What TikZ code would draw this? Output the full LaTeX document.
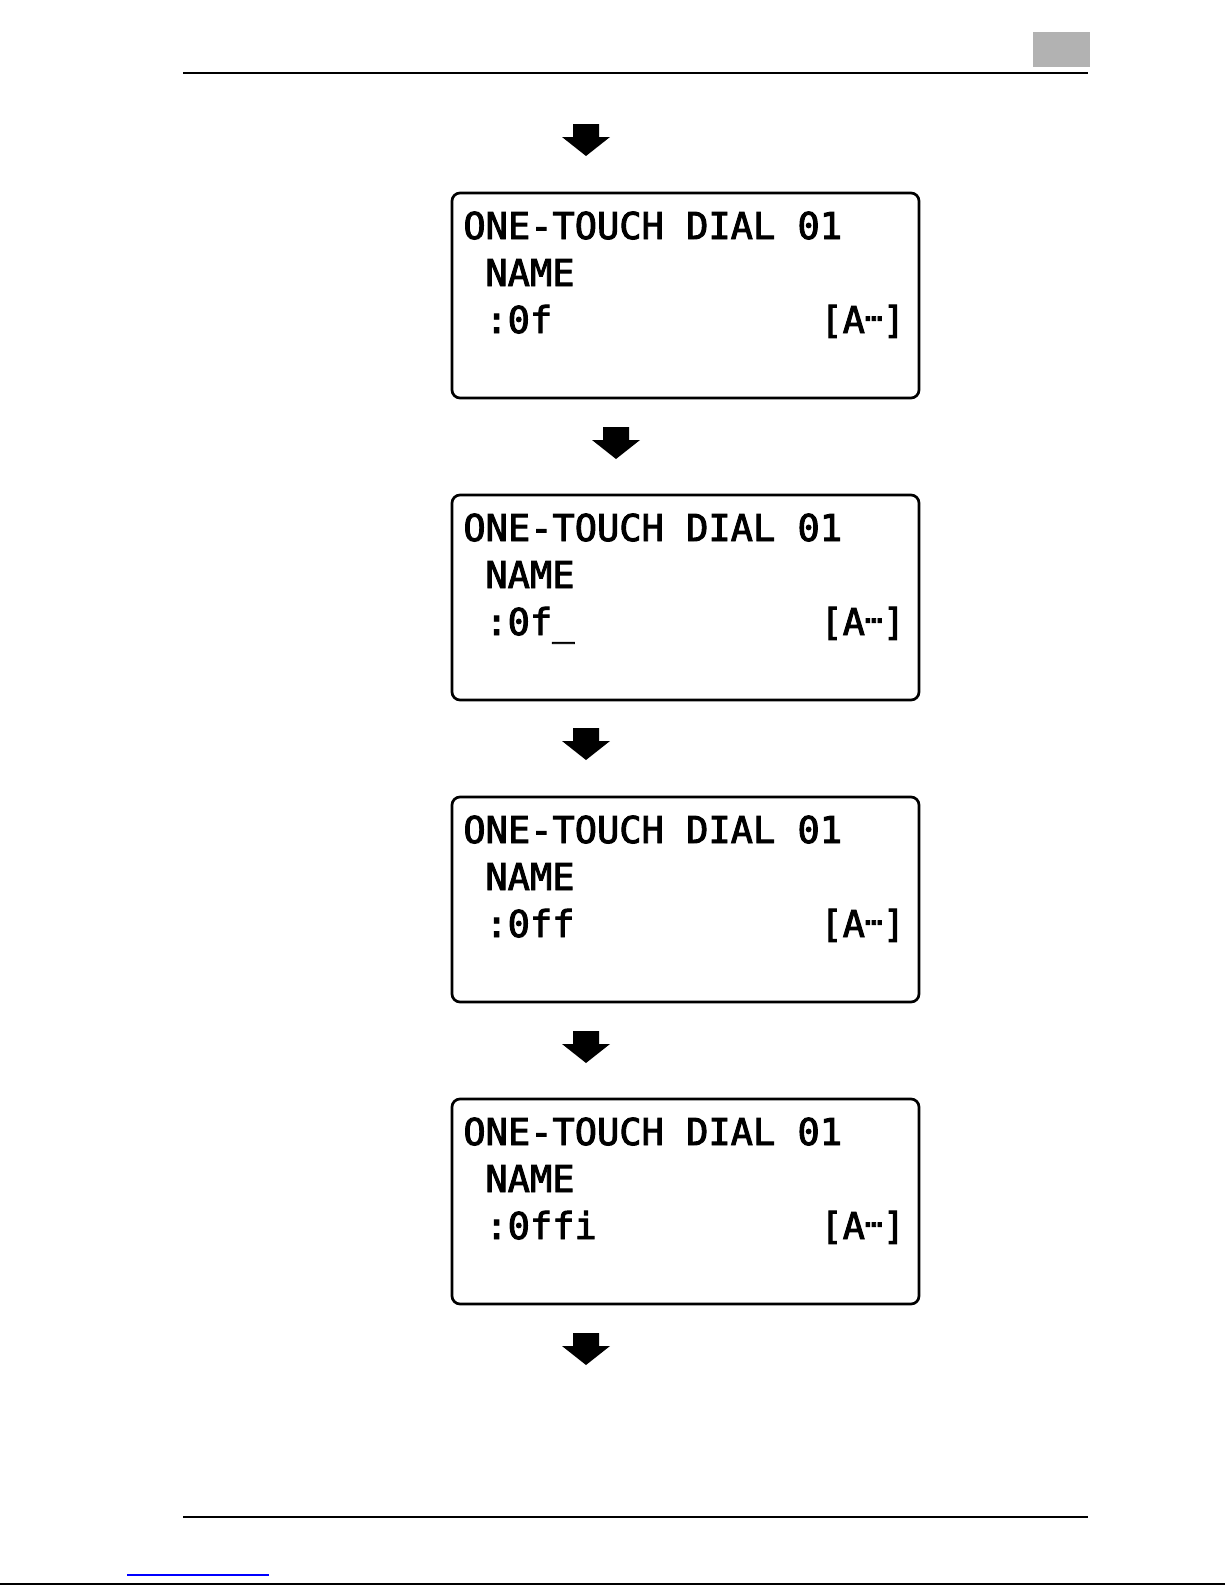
\documentclass[tikz,border=0pt]{standalone}
\usepackage{fontspec}
\newfontfamily\lcdfont{DejaVu Sans Mono}[FakeBold=2.5]
\tikzset{
	screen/.style={draw, line width=1.35pt, rounded corners=4pt, minimum width=233.5pt, minimum height=102.5pt, inner sep=0pt},
	lcd/.style={anchor=base west, inner sep=0pt, font=\lcdfont\fontsize{18.5}{18.5}\selectfont},
}
\begin{document}
\begin{tikzpicture}[x=0.5pt, y=-0.5pt]
	\useasboundingbox (0,0) rectangle (1225,1585);
	% page header and footer
	\fill[gray!60] (1033,32) rectangle (1090,67);
	\draw[line width=1pt] (183,73) -- (1088,73);
	\draw[line width=1pt] (183,1517) -- (1088,1517);
	\draw[blue, line width=0.6pt] (127,1575) -- (269,1575);
	\draw[line width=1pt] (0,1584) -- (1225,1584);

	% arrows
	\foreach \ax/\ay in {586/124, 616/427, 586/728, 586/1031, 586/1333}
		\fill ({\ax-13},\ay) -- ({\ax+13},\ay) -- ({\ax+13},{\ay+13}) -- ({\ax+24},{\ay+13}) -- (\ax,{\ay+32}) -- ({\ax-24},{\ay+13}) -- ({\ax-13},{\ay+13}) -- cycle;

	% screens
	\foreach \i/\entry in {0/:0f, 1/:0f\_, 2/:0ff, 3/:0ffi} {
		\node[screen] (scr\i) at (685.5,{295.5+302*\i}) {};
		\node[lcd] (title\i) at (463,{239+302*\i}) {ONE-TOUCH DIAL 01};
		\node[lcd] (name\i) at (485,{286+302*\i}) {NAME};
		\node[lcd] (entry\i) at (485,{333+302*\i}) {\entry};
		\node[lcd] (mode\i) at (820,{333+302*\i}) {[A\raisebox{0.33em}{\scalebox{0.8}{…}}]};
	}
\end{tikzpicture}
\end{document}
